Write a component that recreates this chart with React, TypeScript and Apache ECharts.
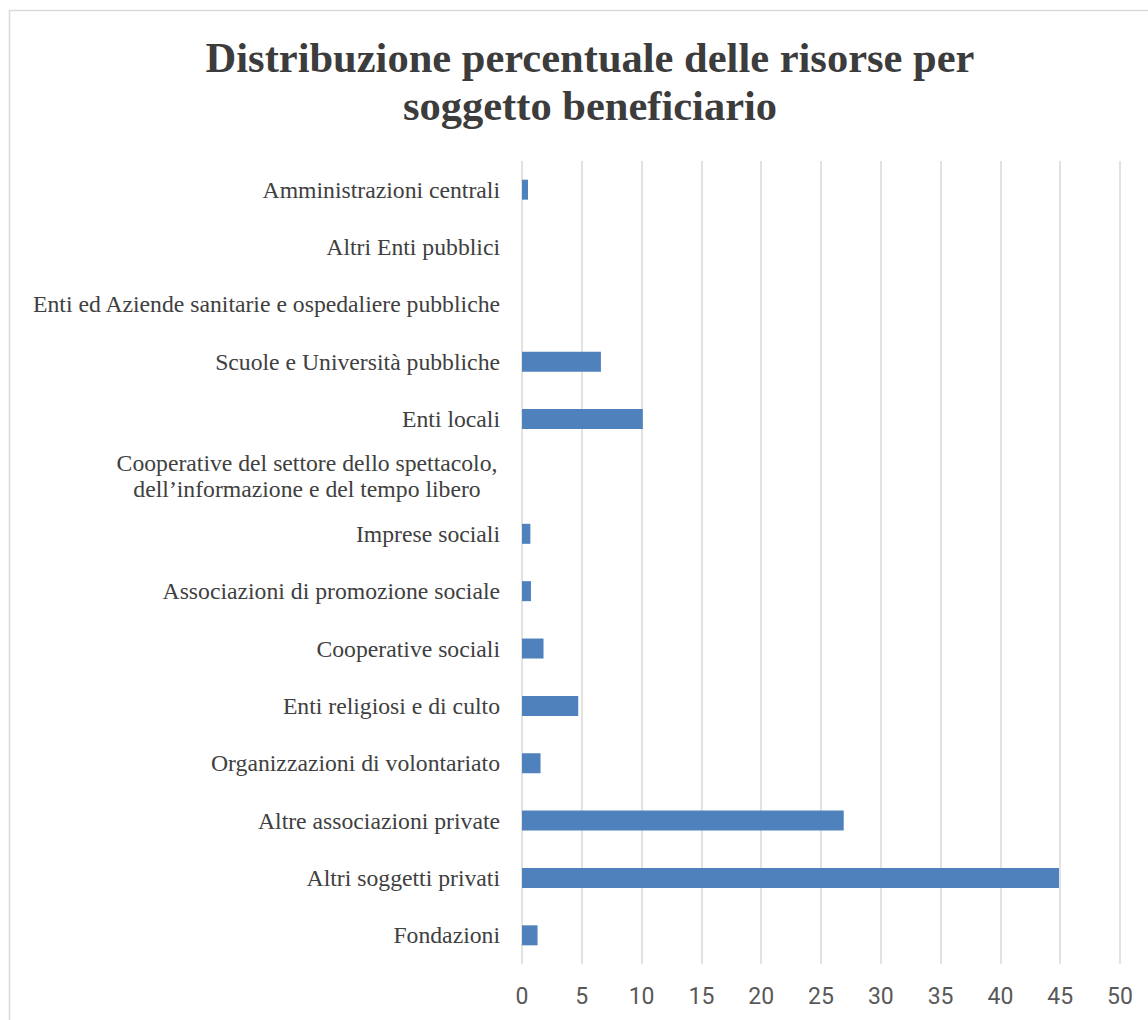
import React, { useEffect, useRef } from "react";
import * as echarts from "echarts";

const titleText = "Distribuzione percentuale delle risorse per\nsoggetto beneficiario";

const categories = [
  "Amministrazioni centrali",
  "Altri Enti pubblici",
  "Enti ed Aziende sanitarie e ospedaliere pubbliche",
  "Scuole e Università pubbliche",
  "Enti locali",
  "Cooperative del settore dello spettacolo,\ndell’informazione e del tempo libero",
  "Imprese sociali",
  "Associazioni di promozione sociale",
  "Cooperative sociali",
  "Enti religiosi e di culto",
  "Organizzazioni di volontariato",
  "Altre associazioni private",
  "Altri soggetti privati",
  "Fondazioni",
];

const values = [0.5, 0, 0, 6.6, 10.1, 0, 0.7, 0.75, 1.8, 4.7, 1.55, 26.9, 44.9, 1.3];

const xMin = 0;
const xMax = 50;
const xInterval = 5;

export default function App() {
  const ref = useRef<HTMLDivElement>(null);
  useEffect(() => {
    if (!ref.current) return;
    const chart = echarts.init(ref.current, undefined, { renderer: "svg" });
    const serif = "'Liberation Serif', 'Times New Roman', serif";
    chart.setOption({
      animation: false,
      backgroundColor: "#ffffff",
      title: {
        text: titleText,
        left: 585,
        top: 28,
        textAlign: "center",
        textStyle: {
          fontFamily: serif,
          fontWeight: "bold",
          fontSize: 42.5,
          lineHeight: 48,
          color: "#3c3c3c",
        },
      },
      graphic: [
        {
          type: "rect",
          shape: { x: 9.5, y: 10.5, width: 1300, height: 1200 },
          style: { fill: "none", stroke: "#d9d9d9", lineWidth: 1.5 },
          silent: true,
          z: -1,
        },
      ],
      grid: { left: 522, right: 28, top: 161, bottom: 56, containLabel: false },
      xAxis: {
        type: "value",
        min: xMin,
        max: xMax,
        interval: xInterval,
        axisLine: { show: false },
        axisTick: { show: false },
        splitLine: { show: true, lineStyle: { color: "#d9d9d9", width: 1.5 } },
        axisLabel: {
          margin: 21,
          fontFamily: "'Liberation Sans Narrow', 'Roboto', sans-serif",
          fontSize: 23,
          color: "#595959",
        },
      },
      yAxis: {
        type: "category",
        inverse: true,
        data: categories,
        axisLine: { show: false },
        axisTick: { show: false },
        axisLabel: {
          margin: 22,
          fontFamily: serif,
          fontSize: 23.7,
          color: "#404040",
          lineHeight: 26,
          formatter: (v: string) =>
            v.indexOf("\n") >= 0
              ? v
                  .split("\n")
                  .map((s) => "{c|" + s + "}")
                  .join("\n")
              : v,
          rich: {
            c: {
              width: 386,
              align: "center",
              fontFamily: serif,
              fontSize: 23.7,
              color: "#404040",
              lineHeight: 26,
            },
          },
        },
      },
      series: [
        {
          type: "bar",
          data: values,
          barWidth: 20,
          itemStyle: { color: "#4f81bd" },
        },
      ],
    });
    return () => chart.dispose();
  }, []);
  return (
    <div
      ref={ref}
      style={{ position: "absolute", left: 0, top: 0, width: 1148, height: 1020 }}
    />
  );
}
